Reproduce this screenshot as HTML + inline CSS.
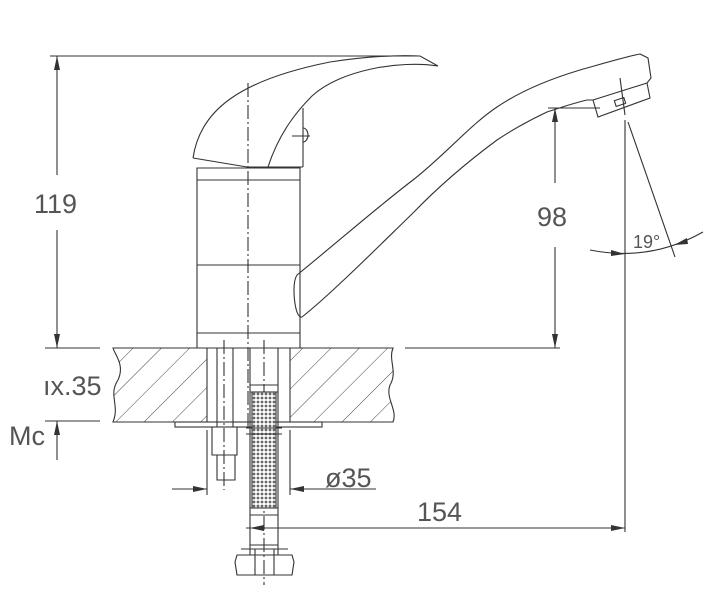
<!DOCTYPE html>
<html><head><meta charset="utf-8"><style>html,body{margin:0;padding:0;background:#fff}svg{display:block}</style></head>
<body>
<svg width="716" height="600" viewBox="0 0 716 600" xmlns="http://www.w3.org/2000/svg" font-family="Liberation Sans, sans-serif">
<defs>
<pattern id="h" width="20" height="20" patternUnits="userSpaceOnUse" patternTransform="rotate(45)"><line x1="0" y1="0" x2="0" y2="20" stroke="#444" stroke-width="1"/></pattern>
<pattern id="m" width="4" height="4" patternUnits="userSpaceOnUse"><rect width="4" height="4" fill="#fff"/><circle cx="2" cy="2" r="1.4" fill="#666"/></pattern>
</defs>
<g fill="none" stroke="#333" stroke-width="1.1">
<!-- handle -->
<path d="M193,158 C200,110 240,80 330,62 C370,56 400,55 420,56 L438,66 C400,60 340,70 312,96 C300,108 280,130 268,167 M303,108 L303,167 M193,158 L247,167 L303,167"/>
<path d="M303,128 a5,7 0 0 1 0,14"/><line x1="292" y1="136" x2="310" y2="136"/>
<!-- body -->
<path d="M197,180 L197,333 M300,180 L300,333 M197,168 L300,168 L300,180 L197,180 Z M197,265 L300,265 M197,333 L300,333 L300,348 L197,348 Z"/>
<!-- spout -->
<path d="M297,275 C340,240 380,205 413,180 C445,155 470,125 497,107 C525,88 560,76 580,70 C605,63 625,57 640,54 L648,58 L651,78 L647,83 L650,98 L598,117 L593,100 L587,100 C570,104 560,108 547,112 C530,120 515,128 497,140 C470,160 440,185 413,213 C380,245 330,295 302,317 C296,318 294,300 294,290 C294,282 295,278 297,275 Z"/>
<path d="M593,100 L647,83"/>
<rect x="615" y="99" width="10" height="6" transform="rotate(-18 620 102)"/>
<!-- centre lines -->
<line x1="248" y1="83" x2="248" y2="430" stroke-dasharray="14,3,2,3"/>
<line x1="224" y1="340" x2="224" y2="490" stroke-dasharray="14,3,2,3"/>
<line x1="264" y1="340" x2="264" y2="585" stroke-dasharray="14,3,2,3"/>
<line x1="620" y1="78" x2="625" y2="115"/>
<!-- counter -->
<path d="M113,348 L207,348 L207,422 L113,422 C120,405 108,395 118,380 C125,365 115,355 113,348 Z" fill="url(#h)"/>
<path d="M290,348 L393,348 C388,360 398,372 390,385 C385,398 398,410 393,422 L290,422 Z" fill="url(#h)"/>
<line x1="405" y1="348" x2="560" y2="348"/>
<rect x="175" y="422" width="147" height="5"/>
<!-- stud -->
<path d="M217,348 L217,427 M233,348 L233,427 M212,427 L237,427 L237,455 L212,455 Z M217,455 L217,480 L235,480 L235,455"/>
<!-- hose -->
<path d="M250,348 L250,555 M278,348 L278,555"/>
<rect x="252" y="392" width="24" height="116" fill="url(#m)"/>
<path d="M250,385 L278,385 M250,392 L278,392 M246,428 L282,428 M246,434 L282,434 M250,508 L278,508 M250,515 L278,515 M250,545 L278,545"/>
<path d="M237,555 L292,555 L294,562 L292,575 L237,575 L235,562 Z M255,549 L255,575 M274,549 L274,575 M241,549 L288,549"/>
<!-- dimensions -->
<line x1="50" y1="56" x2="420" y2="56"/>
<line x1="57" y1="56" x2="57" y2="175"/><line x1="57" y1="230" x2="57" y2="348"/>
<line x1="45" y1="348" x2="100" y2="348"/><line x1="45" y1="421" x2="100" y2="421"/>
<line x1="57" y1="421" x2="57" y2="460"/>
<line x1="548" y1="108" x2="600" y2="108"/>
<line x1="555" y1="108" x2="555" y2="183"/><line x1="555" y1="247" x2="555" y2="348"/>
<line x1="625" y1="120" x2="625" y2="532"/>
<line x1="628" y1="122" x2="675" y2="257"/>
<path d="M590,250 Q650,262 703,232"/>
<line x1="207" y1="430" x2="207" y2="495"/><line x1="290" y1="430" x2="290" y2="495"/>
<line x1="172" y1="489" x2="207" y2="489"/><line x1="290" y1="489" x2="376" y2="489"/>
<line x1="246" y1="528" x2="625" y2="528"/>
</g>
<g fill="#333">
<path d="M57,56 l-3,14 h6z M57,348 l-3,-14 h6z M57,421 l-3,14 h6z M555,108 l-3,14 h6z M555,348 l-3,-14 h6z M207,489 l-14,-3 v6z M290,489 l14,-3 v6z M625,528 l-14,-3 v6z M250,528 l14,-3 v6z M625,254 l-14,-4 v6z M674,245 l13,-7 l1,6z"/>
</g>
<g fill="#555" font-size="27">
<text x="34" y="213">119</text>
<text x="537" y="226">98</text>
<text x="633" y="248" font-size="18">19°</text>
<text x="43" y="395">ıx.35</text>
<text x="9" y="445">Mc</text>
<text x="325" y="487">ø35</text>
<text x="417" y="521">154</text>
</g>
</svg>
</body></html>
